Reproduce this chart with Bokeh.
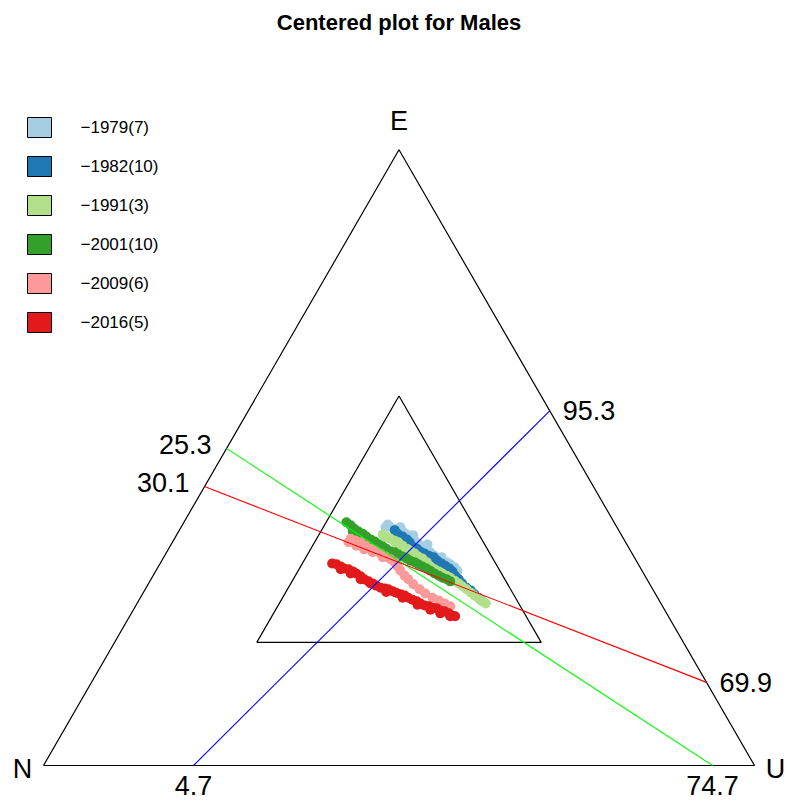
from bokeh.plotting import figure
from bokeh.models import Range1d
from bokeh.core.properties import value
from bokeh.embed import file_html
from bokeh.resources import INLINE
import numpy as np

# ---------------- data ----------------
title_text = "Centered plot for Males"
series = ["1979", "1982", "1991", "2001", "2009", "2016"]
counts = [7, 10, 3, 10, 6, 5]
colors = ["#A6CEE3", "#1F78B4", "#B2DF8A", "#33A02C", "#FB9A99", "#E31A1C"]
vertex_labels = ["N", "U", "E"]

# point positions in triangle units (side = 100, N at origin, U at (100,0))
x_1979 = [48.1, 48.7, 49.2, 49.9, 50.5, 51.1, 51.6, 52.2, 52.7, 53.3, 53.9, 54.4, 55.0, 55.6,
          56.1, 56.7, 57.2, 57.8, 58.2, 58.1, 57.5, 48.4, 50.2, 52.0, 54.0, 56.0]
y_1979 = [33.5, 33.6, 33.3, 33.2, 32.9, 32.5, 32.1, 31.6, 31.2, 30.8, 30.4, 30.0, 29.5, 29.1,
          28.8, 28.6, 28.3, 27.9, 27.4, 27.0, 27.7, 33.9, 33.5, 32.4, 31.1, 29.3]
x_1982 = [49.4, 49.8, 50.5, 51.1, 51.5, 51.9, 52.5, 53.0, 53.6, 54.2, 54.9, 55.4, 56.0, 56.5,
          57.1, 57.5, 57.9, 58.4, 58.9, 59.5, 60.1, 60.6, 61.2, 61.6]
y_1982 = [33.1, 32.6, 32.2, 31.8, 31.4, 30.8, 30.5, 30.1, 29.8, 29.5, 29.3, 28.8, 28.4, 28.1,
          27.7, 27.3, 26.7, 26.2, 25.6, 25.0, 24.6, 24.1, 23.6, 23.2]
x_1991 = [47.7, 48.2, 48.8, 49.4, 49.9, 50.5, 51.1, 51.6, 52.2, 52.7, 53.3, 53.9, 54.4, 55.0,
          55.6, 56.1, 56.7, 57.2, 57.8, 58.4, 58.9, 59.5, 60.1, 60.6, 61.2, 61.7, 62.2,
          48.0, 49.6, 51.3, 53.0]
y_1991 = [32.5, 32.2, 31.9, 31.6, 31.4, 30.9, 30.5, 30.2, 29.8, 29.4, 29.1, 28.6, 28.0, 27.6,
          27.3, 27.0, 26.7, 26.4, 26.0, 25.6, 25.2, 24.8, 24.3, 23.9, 23.5, 23.1, 22.8,
          32.0, 31.1, 30.0, 28.8]
x_2001 = [42.6, 43.2, 43.7, 44.3, 44.9, 45.4, 46.0, 46.6, 47.1, 47.7, 48.2, 48.8, 49.4, 49.9,
          50.5, 51.1, 51.6, 52.2, 52.7, 53.3, 53.9, 54.4, 55.0, 55.6, 56.1, 56.7, 57.2,
          43.5, 44.6, 45.7, 46.8, 48.0, 49.2]
y_2001 = [34.2, 33.8, 33.3, 32.9, 32.6, 32.2, 31.8, 31.5, 31.1, 30.8, 30.5, 30.1, 30.0, 29.7,
          29.4, 29.1, 28.8, 28.6, 28.3, 28.0, 27.7, 27.4, 27.0, 26.7, 26.4, 26.2, 25.9,
          32.9, 32.2, 31.6, 30.9, 30.2, 29.6]
x_2009 = [43.2, 43.9, 44.6, 45.3, 46.0, 46.7, 47.4, 48.1, 48.8, 49.4, 49.8, 50.2, 50.8, 51.3,
          52.0, 52.9, 53.7, 54.7, 55.6, 56.4, 57.2, 42.9, 44.0, 45.1, 46.3, 47.7]
y_2009 = [31.9, 31.6, 31.4, 30.9, 30.5, 30.2, 29.8, 29.4, 29.0, 28.6, 28.0, 27.4, 26.7, 26.2,
          25.5, 24.8, 24.2, 23.6, 23.2, 22.8, 22.4, 31.4, 30.9, 30.4, 30.0, 29.3]
x_2016 = [40.6, 41.2, 41.8, 42.3, 42.9, 43.5, 44.0, 44.6, 45.1, 45.7, 46.3, 46.8, 47.4, 48.0,
          48.5, 49.1, 49.6, 50.2, 50.8, 51.3, 51.9, 52.5, 53.0, 53.6, 54.2, 54.7, 55.3, 55.8,
          56.4, 57.0, 57.5, 57.9, 57.2, 55.8, 54.4, 41.8, 43.2, 44.6, 46.0, 48.2, 50.5, 52.6]
y_2016 = [28.4, 28.3, 28.0, 27.7, 27.6, 27.3, 27.0, 26.6, 26.2, 25.9, 25.6, 25.3, 25.0, 24.9,
          24.8, 24.5, 24.3, 24.1, 23.9, 23.6, 23.3, 23.1, 22.8, 22.5, 22.4, 22.2, 22.1, 21.8,
          21.7, 21.4, 21.1, 21.0, 21.0, 21.4, 21.9, 27.6, 27.0, 26.2, 25.6, 24.4, 23.6, 22.6]
xs_all = [x_1979, x_1982, x_1991, x_2001, x_2009, x_2016]
ys_all = [y_1979, y_1982, y_1991, y_2001, y_2009, y_2016]

# centre lines: colour, (edge, fraction, label) at both ends
line_colors = ["#0000FF", "#00FF00", "#FF0000"]
line_start_edge = ["bottom", "left", "left"]
line_start_frac = [0.211, 0.515, 0.453]
line_start_label = ["4.7", "25.3", "30.1"]
line_end_edge = ["right", "bottom", "right"]
line_end_frac = [0.576, 0.941, 0.135]
line_end_label = ["95.3", "74.7", "69.9"]
inner_scale = 0.4

# ---------------- geometry ----------------
H = np.sqrt(3) / 2 * 100
S = 7.11  # pixels per unit
W, HH = 786, 800
x0 = -43 / S
x1 = x0 + W / S
y1 = 765 / S
y0 = y1 - HH / S


def px2x(px):
    return x0 + px / S


def py2y(py):
    return y1 - py / S


def edge_point(edge, t):
    if edge == "bottom":
        return 100 * t, 0.0
    if edge == "left":
        return 50 * t, H * t
    return 100 - 50 * t, H * t


FONT = value("Liberation Sans")

p = figure(width=W, height=HH, x_range=Range1d(x0, x1), y_range=Range1d(y0, y1),
           x_axis_type=None, y_axis_type=None, output_backend="svg",
           toolbar_location=None, min_border=0)
p.outline_line_color = None
p.grid.visible = False
p.background_fill_color = "white"

# outer and inner triangles
tri_x = [0, 100, 50, 0]
tri_y = [0, 0, H, 0]
p.line(tri_x, tri_y, line_color="black", line_width=1.2)
cx, cy = 50, H / 3
in_x = [cx + inner_scale * (v - cx) for v in tri_x]
in_y = [cy + inner_scale * (v - cy) for v in tri_y]
p.line(in_x, in_y, line_color="black", line_width=1.2)

# points
for xs, ys, col in zip(xs_all, ys_all, colors):
    p.scatter(xs, ys, marker="circle", size=10, fill_color=col, line_color=None)

# centre lines and their labels
for col, se, sf, sl, ee, ef, el in zip(line_colors, line_start_edge, line_start_frac, line_start_label,
                                       line_end_edge, line_end_frac, line_end_label):
    sx_, sy_ = edge_point(se, sf)
    ex_, ey_ = edge_point(ee, ef)
    p.line([sx_, ex_], [sy_, ey_], line_color=col, line_width=1.1)
    for (xx, yy), edge, lab in (((sx_, sy_), se, sl), ((ex_, ey_), ee, el)):
        if edge == "bottom":
            kw = dict(text_align="center", x_offset=0, y_offset=20)
        elif edge == "left":
            kw = dict(text_align="right", x_offset=-15, y_offset=-4)
        else:
            kw = dict(text_align="left", x_offset=13, y_offset=0)
        p.text([xx], [yy], text=[lab], text_font=FONT, text_font_size="27px",
               text_baseline="middle", text_color="black", **kw)

# vertex labels
p.text([0], [0], text=[vertex_labels[0]], text_font=FONT, text_font_size="27px",
       text_align="center", text_baseline="middle", x_offset=-21, y_offset=3)
p.text([100], [0], text=[vertex_labels[1]], text_font=FONT, text_font_size="27px",
       text_align="center", text_baseline="middle", x_offset=21, y_offset=3)
p.text([50], [H], text=[vertex_labels[2]], text_font=FONT, text_font_size="27px",
       text_align="center", text_baseline="middle", x_offset=0, y_offset=-29)

# title
p.text([50], [py2y(22)], text=[title_text], text_font=FONT, text_font_size="22px",
       text_font_style="bold", text_align="center", text_baseline="middle")

# legend
leg_x = px2x(39)
leg_y = [py2y(127 + 39 * i) for i in range(len(series))]
p.rect([leg_x] * len(series), leg_y, width=24, height=20, width_units="screen",
       height_units="screen", fill_color=colors, line_color="black", line_width=1)
leg_labels = ["\u2212%s(%d)" % (s, c) for s, c in zip(series, counts)]
p.text([px2x(80)] * len(series), leg_y, text=leg_labels, text_font=FONT,
       text_font_size="17px", text_align="left", text_baseline="middle")

open("out.html", "w").write(file_html(p, INLINE))
